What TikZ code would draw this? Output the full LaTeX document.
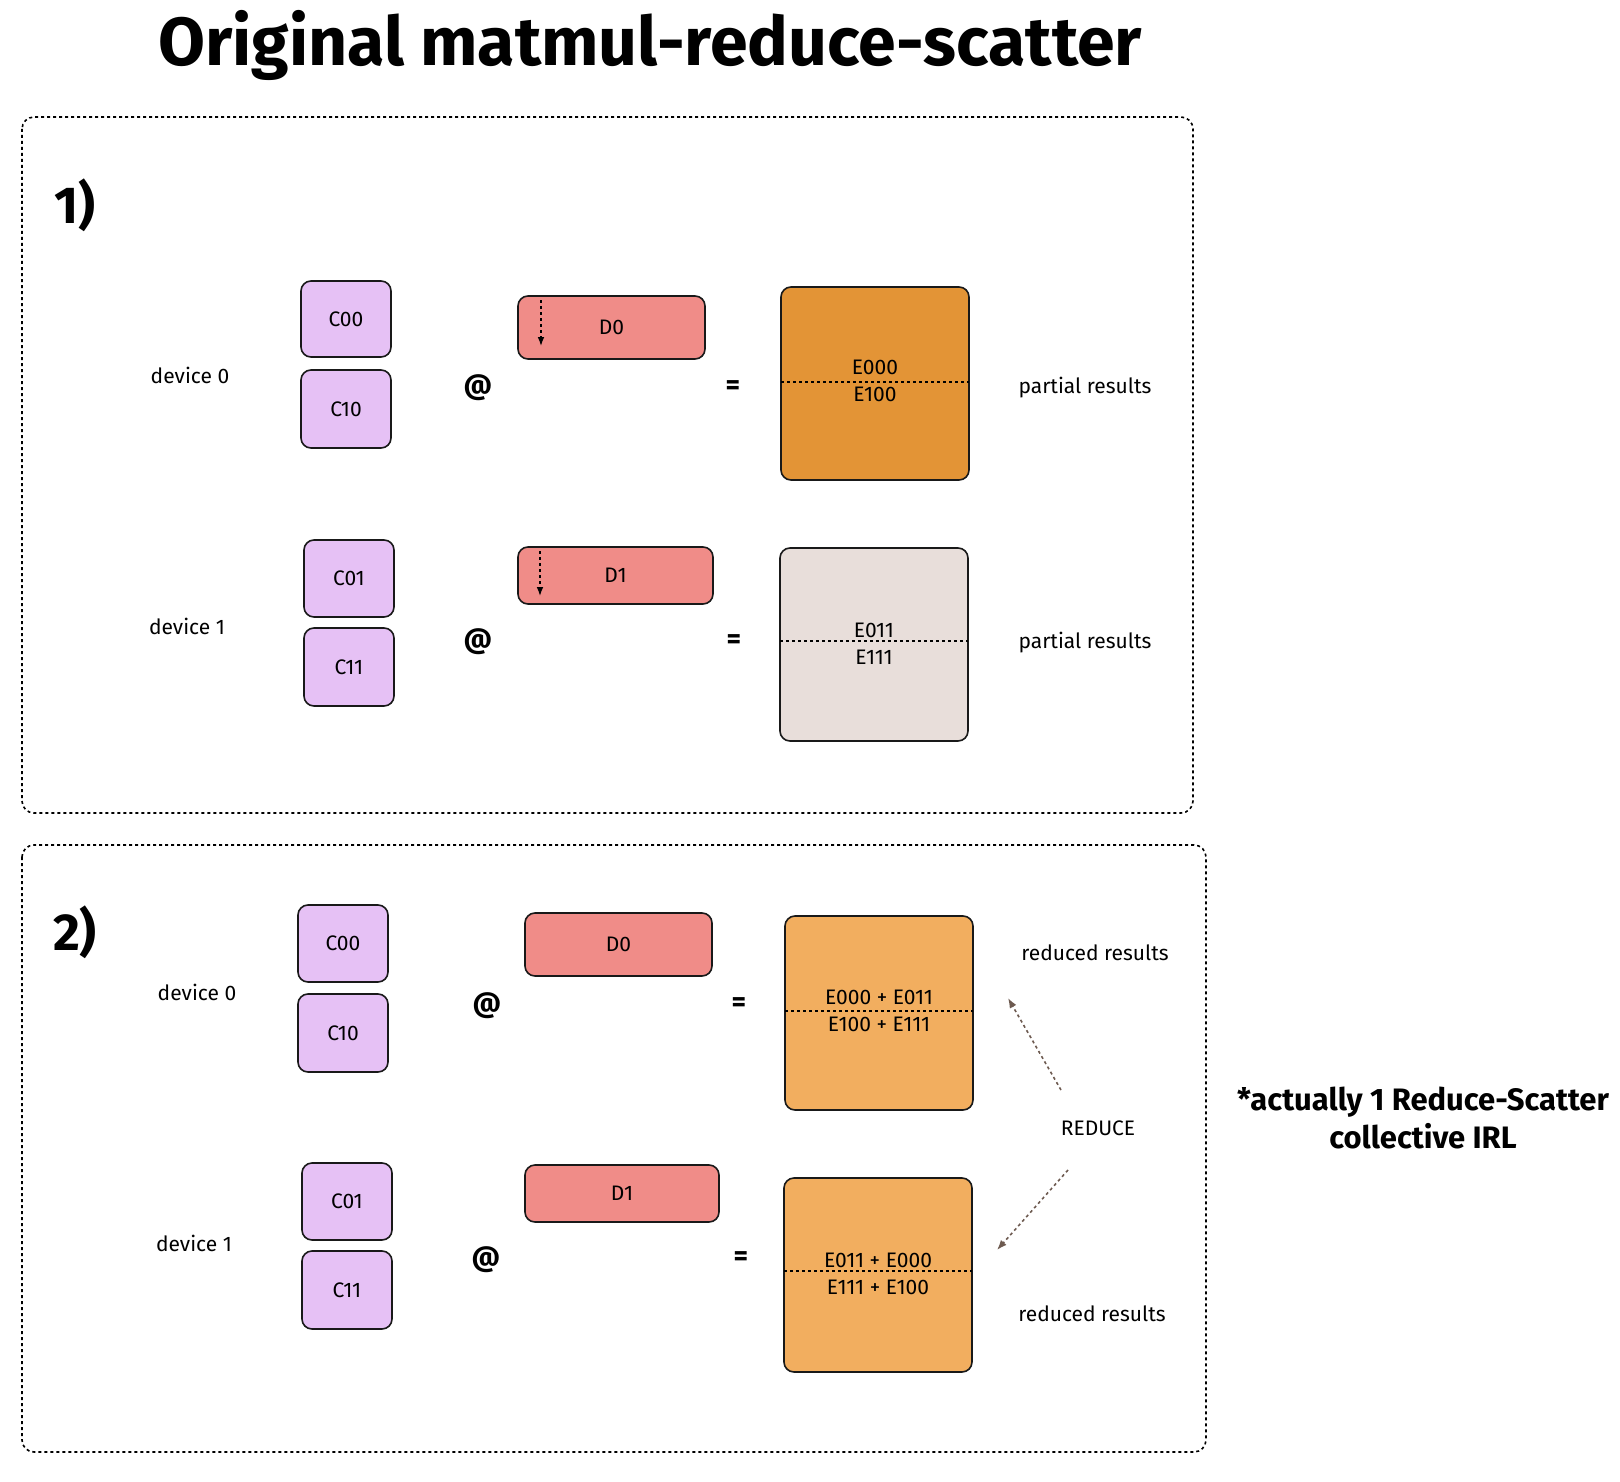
\documentclass[tikz,border=0pt]{standalone}
\usepackage{fontspec}
\setmainfont{Fira Sans}
\usetikzlibrary{arrows.meta}
\definecolor{cpur}{HTML}{E6C1F5}
\definecolor{cred}{HTML}{F08C88}
\definecolor{cor}{HTML}{E39436}
\definecolor{cbei}{HTML}{E8DEDA}
\definecolor{cor2}{HTML}{F2AE5F}
\definecolor{cbr}{HTML}{6D5A50}
\begin{document}
\begin{tikzpicture}[x=1pt,y=-1pt,
  blk/.style={draw=black!90,line width=1.6pt,rounded corners=10pt},
  lab/.style={font=\fontsize{21}{24}\selectfont},
  op/.style={font=\fontsize{28}{30}\selectfont\bfseries},
  frame/.style={draw,dashed,line width=1.6pt,rounded corners=12pt},
  big/.style={font=\fontsize{52}{56}\selectfont\bfseries}]
\useasboundingbox (0,0) rectangle (1620,1482);
\node[font=\fontsize{68}{74}\selectfont\bfseries] (title) at (650,45) {Original matmul-reduce-scatter};
% frame 1
\draw[frame] (22,117) rectangle (1193,813);
\node[big] (n1) at (75,205) {1)};
\node[lab] (d0a) at (190,375) {device 0};
\draw[blk,fill=cpur] (301,281) rectangle node[lab] (c00a) {C00} (391,357);
\draw[blk,fill=cpur] (301,370) rectangle node[lab] (c10a) {C10} (391,448);
\node[op] (at1) at (478,388) {@};
\draw[blk,fill=cred] (518,296) rectangle node[lab] (d0) {D0} (705,359);
\coordinate (a1s) at (541,300); \coordinate (a1e) at (541,346);
\draw[dashed,-{Latex[length=9pt]},line width=1.4pt] (a1s) -- (a1e);
\node[op] (eq1) at (733,388) {=};
\draw[blk,fill=cor] (781,287) rectangle (969,480);
\coordinate (l1a) at (781,382); \coordinate (l1b) at (969,382);
\draw[dashed,line width=1.6pt] (l1a) -- (l1b);
\node[lab] (e000) at (875,367) {E000};
\node[lab] (e100) at (875,394) {E100};
\node[lab] (pr1) at (1085,388) {partial results};
\node[lab] (d1a) at (187,626) {device 1};
\draw[blk,fill=cpur] (304,540) rectangle node[lab] (c01a) {C01} (394,617);
\draw[blk,fill=cpur] (304,628) rectangle node[lab] (c11a) {C11} (394,706);
\node[op] (at2) at (478,642) {@};
\draw[blk,fill=cred] (518,547) rectangle node[lab] (d1) {D1} (713,604);
\coordinate (a2s) at (540,551); \coordinate (a2e) at (540,596);
\draw[dashed,-{Latex[length=9pt]},line width=1.4pt] (a2s) -- (a2e);
\node[op] (eq2) at (734,642) {=};
\draw[blk,fill=cbei] (780,548) rectangle (968,741);
\coordinate (l2a) at (780,641); \coordinate (l2b) at (968,641);
\draw[dashed,line width=1.6pt] (l2a) -- (l2b);
\node[lab] (e011) at (874,630) {E011};
\node[lab] (e111) at (874,657) {E111};
\node[lab] (pr2) at (1085,643) {partial results};
% frame 2
\draw[frame] (22,845) rectangle (1206,1452);
\node[big] (n2) at (75,932) {2)};
\node[lab] (d0b) at (197,992) {device 0};
\draw[blk,fill=cpur] (298,905) rectangle node[lab] (c00b) {C00} (388,982);
\draw[blk,fill=cpur] (298,994) rectangle node[lab] (c10b) {C10} (388,1072);
\node[op] (at3) at (487,1006) {@};
\draw[blk,fill=cred] (525,913) rectangle node[lab] (d0b2) {D0} (712,976);
\node[op] (eq3) at (739,1005) {=};
\draw[blk,fill=cor2] (785,916) rectangle (973,1110);
\coordinate (l3a) at (785,1011); \coordinate (l3b) at (973,1011);
\draw[dashed,line width=1.6pt] (l3a) -- (l3b);
\node[lab] (s1) at (879,997) {E000 + E011};
\node[lab] (s2) at (879,1024) {E100 + E111};
\node[lab] (rr1) at (1095,953) {reduced results};
\node[lab] (red) at (1098,1128) {REDUCE};
\coordinate (r1s) at (1061,1090); \coordinate (r1e) at (1008,998);
\coordinate (r2s) at (1068,1170); \coordinate (r2e) at (997,1250);
\draw[cbr,dashed,line width=1.6pt,-{Latex[length=10pt]}] (r1s) -- (r1e);
\draw[cbr,dashed,line width=1.6pt,-{Latex[length=10pt]}] (r2s) -- (r2e);
\node[lab] (d1b) at (194,1243) {device 1};
\draw[blk,fill=cpur] (302,1163) rectangle node[lab] (c01b) {C01} (392,1240);
\draw[blk,fill=cpur] (302,1251) rectangle node[lab] (c11b) {C11} (392,1329);
\node[op] (at4) at (486,1260) {@};
\draw[blk,fill=cred] (525,1165) rectangle node[lab] (d1b2) {D1} (719,1222);
\node[op] (eq4) at (741,1259) {=};
\draw[blk,fill=cor2] (784,1178) rectangle (972,1372);
\coordinate (l4a) at (784,1271); \coordinate (l4b) at (972,1271);
\draw[dashed,line width=1.6pt] (l4a) -- (l4b);
\node[lab] (s3) at (878,1260) {E011 + E000};
\node[lab] (s4) at (878,1287) {E111 + E100};
\node[lab] (rr2) at (1092,1314) {reduced results};
\node[font=\fontsize{31}{38}\selectfont\bfseries,align=center] (note) at (1423,1118) {*actually 1 Reduce-Scatter\\collective IRL};
\end{tikzpicture}
\end{document}
